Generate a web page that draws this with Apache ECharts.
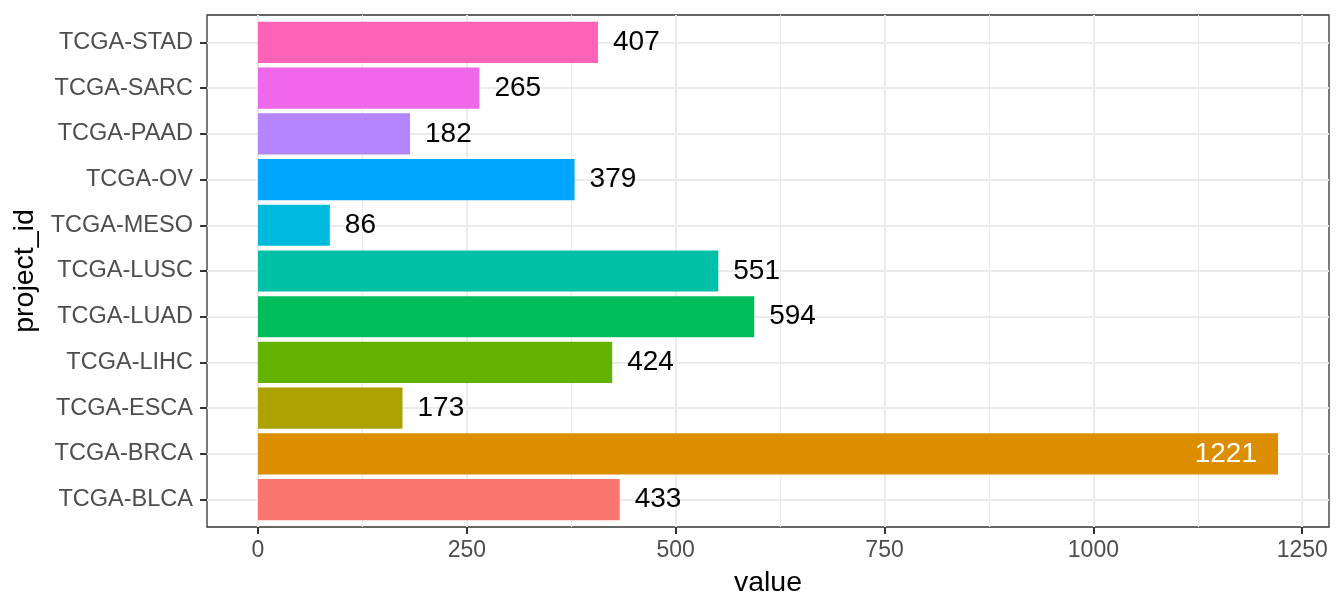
<!DOCTYPE html>
<html>
<head>
<meta charset="utf-8">
<title>project_id counts</title>
<script src="https://cdn.jsdelivr.net/npm/echarts@6/dist/echarts.min.js"></script>
<style>
  html, body { margin: 0; padding: 0; background: #fff; }
  #main { width: 1344px; height: 614px; }
</style>
</head>
<body>
<div id="main"></div>
<script>
// data, bottom to top
const categories = ['TCGA-BLCA', 'TCGA-BRCA', 'TCGA-ESCA', 'TCGA-LIHC', 'TCGA-LUAD', 'TCGA-LUSC',
        'TCGA-MESO', 'TCGA-OV', 'TCGA-PAAD', 'TCGA-SARC', 'TCGA-STAD'];
const values = [433, 1221, 173, 424, 594, 551, 86, 379, 182, 265, 407];
const xTicks = [0, 250, 500, 750, 1000, 1250];
const xMinorTicks = [125, 375, 625, 875, 1125];

// ggplot hue palette, 11 levels
const palette = ['#F8766D', '#DB8E00', '#AEA200', '#64B200', '#00BD5C', '#00C1A7',
        '#00BADE', '#00A6FF', '#B385FF', '#EF67EB', '#FF63B6'];

const FONT = "'Liberation Sans', Arial, sans-serif";
const vmax = Math.max(...values);
const xMin = -vmax * 0.05;
const xMax = vmax * 1.05;
// row positions of the discrete axis (1..n), range expanded by 0.6 like ggplot
const yRows = categories.map((c, i) => i + 1);

// panel box
const panel = { left: 207, right: 15, top: 15, bottom: 87 };
const panelH = 614 - panel.top - panel.bottom;
const band = panelH / (categories.length + 0.2);

let chart = echarts.init(document.getElementById('main'), null, { renderer: 'canvas' });

let option = {
        animation: false,
        backgroundColor: '#fff',
        textStyle: { fontFamily: FONT },
        grid: [{
                // panel with border and grid lines
                left: panel.left, right: panel.right, top: panel.top, bottom: panel.bottom,
                show: true,
                borderColor: '#333333',
                borderWidth: 1.3,
                containLabel: false
        }, {
                // bars, inset so bands match ggplot's 0.6 expansion
                left: panel.left, right: panel.right,
                top: panel.top + band * 0.1, bottom: panel.bottom + band * 0.1,
                containLabel: false
        }],
        xAxis: [{
                gridIndex: 0,
                type: 'value',
                min: xMin,
                max: xMax,
                position: 'bottom',
                name: 'value',
                nameLocation: 'middle',
                nameGap: 42,
                nameTextStyle: { fontSize: 28.5, color: '#000', fontFamily: FONT },
                axisLine: { show: false, onZero: false },
                axisTick: {
                        show: true,
                        customValues: xTicks,
                        length: 7,
                        lineStyle: { color: '#333333', width: 2 }
                },
                axisLabel: {
                        customValues: xTicks,
                        formatter: (v) => String(v),
                        margin: 12,
                        fontSize: 23,
                        color: '#4D4D4D',
                        fontFamily: FONT
                },
                splitLine: { show: true, lineStyle: { color: '#EBEBEB', width: 2 } }
        }, {
                // minor vertical lines
                gridIndex: 0,
                type: 'value',
                min: xMin,
                max: xMax,
                position: 'top',
                axisLine: { show: false, onZero: false },
                axisTick: { show: false, customValues: xMinorTicks },
                axisLabel: { show: false },
                splitLine: { show: true, lineStyle: { color: '#EBEBEB', width: 1.1 } }
        }, {
                gridIndex: 1,
                type: 'value',
                min: xMin,
                max: xMax,
                show: false
        }],
        yAxis: [{
                // horizontal lines at row centres
                gridIndex: 0,
                type: 'value',
                min: 0.4,
                max: categories.length + 0.6,
                axisLine: { show: false, onZero: false },
                axisTick: { show: false, customValues: yRows },
                axisLabel: { show: false },
                splitLine: { show: true, lineStyle: { color: '#EBEBEB', width: 2 } }
        }, {
                gridIndex: 1,
                type: 'category',
                data: categories,
                position: 'left',
                name: 'project_id',
                nameLocation: 'middle',
                nameRotate: 90,
                nameGap: 165,
                nameTextStyle: { fontSize: 28.5, color: '#000', fontFamily: FONT },
                axisLine: { show: false, onZero: false },
                axisTick: {
                        show: true,
                        alignWithLabel: true,
                        length: 7,
                        lineStyle: { color: '#333333', width: 2 }
                },
                axisLabel: {
                        margin: 14,
                        fontSize: 23.5,
                        color: '#4D4D4D',
                        fontFamily: FONT
                },
                splitLine: { show: false }
        }],
        series: [{
                type: 'bar',
                xAxisIndex: 2,
                yAxisIndex: 1,
                barCategoryGap: '10%',
                z: 3,
                label: {
                        show: true,
                        position: 'right',
                        distance: 15,
                        fontSize: 28,
                        color: '#000',
                        fontFamily: FONT,
                        padding: [4, 0, 0, 0]
                },
                data: values.map((v, i) => {
                        let item = { value: v, itemStyle: { color: palette[i] } };
                        if (v === vmax) { // big bar: label inside, white
                                item.label = { position: 'insideRight', distance: 21, color: '#fff' };
                        }
                        return item;
                })
        }]
};

chart.setOption(option);
</script>
</body>
</html>
